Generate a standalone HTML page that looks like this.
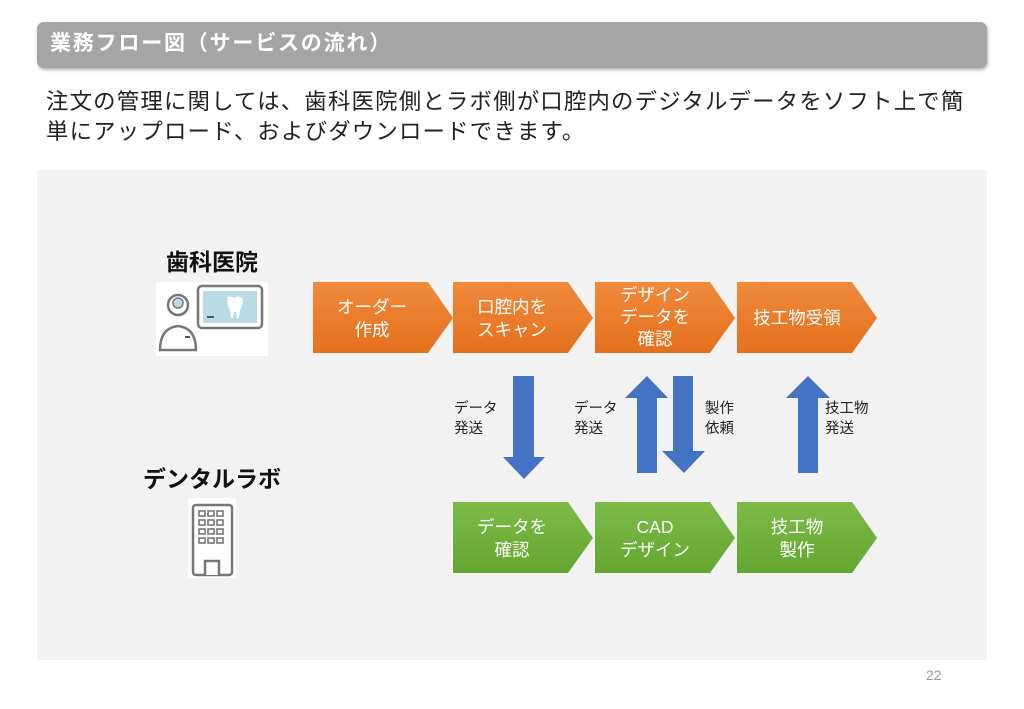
<!DOCTYPE html>
<html><head><meta charset="utf-8"><style>
body{margin:0;width:1024px;height:709px;background:#fff;position:relative;overflow:hidden;font-family:"Liberation Sans","Noto Sans CJK JP",sans-serif;}
.a{position:absolute;}
</style></head><body>
<div class="a" style="left:37px;top:22px;width:950px;height:46px;background:#a5a5a5;border-radius:7px;box-shadow:1px 2px 3px rgba(0,0,0,0.3);"></div>
<div class="a" style="left:50px;top:30px;color:#fff;font-size:21px;font-weight:bold;line-height:28px;letter-spacing:1.8px;white-space:nowrap;">業務フロー図（サービスの流れ）</div>
<div class="a" style="left:46px;top:87px;color:#222;font-size:22.4px;line-height:30px;letter-spacing:1.2px;white-space:nowrap;">注文の管理に関しては、歯科医院側とラボ側が口腔内のデジタルデータをソフト上で簡<br>単にアップロード、およびダウンロードできます。</div>
<div class="a" style="left:37px;top:170px;width:950px;height:490px;background:#f2f2f2;"></div>
<div class="a" style="left:926px;top:667px;color:#999;font-size:14px;">22</div>
<svg class="a" style="left:0;top:0" width="1024" height="709">
<defs>
<linearGradient id="og" x1="0" y1="0" x2="0" y2="1"><stop offset="0" stop-color="#f08a3c"/><stop offset="1" stop-color="#e4701c"/></linearGradient>
<linearGradient id="gg" x1="0" y1="0" x2="0" y2="1"><stop offset="0" stop-color="#7dbb48"/><stop offset="1" stop-color="#62a630"/></linearGradient>
</defs>
<g fill="url(#og)">
<polygon points="313,282 428,282 453,318 428,353 313,353"/>
<polygon points="453,282 568,282 593,318 568,353 453,353"/>
<polygon points="595,282 710,282 735,318 710,353 595,353"/>
<polygon points="737,282 852,282 877,318 852,353 737,353"/>
</g>
<g fill="url(#gg)">
<polygon points="453,502 568,502 593,538 568,573 453,573"/>
<polygon points="595,502 710,502 735,538 710,573 595,573"/>
<polygon points="737,502 852,502 877,538 852,573 737,573"/>
</g>
<g fill="#4472c4">
<polygon points="513,376 534,376 534,457 545,457 524,479 503,457 513,457"/>
<polygon points="637,473 657,473 657,398 668,398 647,376 625,398 637,398"/>
<polygon points="673,376 693,376 693,451 705,451 684,473 662,451 673,451"/>
<polygon points="798,473 818,473 818,398 830,398 808,376 786,398 798,398"/>
</g>
<rect x="156" y="282" width="112" height="74" fill="#fff"/>
<rect x="198" y="286" width="64" height="42" rx="4" fill="#fff" stroke="#777" stroke-width="2.5"/>
<rect x="203" y="291" width="54" height="32" fill="#b9dbe5"/>
<path d="M226,298 q4,-3 8,0 q4,-3 8,0 q2,6 -2,12 l-1,8 h-2 l-1,-6 h-2 l-1,6 h-2 l-1,-8 q-4,-6 -2,-12z" fill="#fff"/>
<rect x="207" y="316" width="7" height="2" fill="#555"/>
<circle cx="178" cy="305" r="10" fill="#fff" stroke="#777" stroke-width="2.5"/>
<circle cx="178" cy="303" r="5" fill="#b9dbe5" stroke="#777" stroke-width="1.5"/>
<path d="M160,350 q0,-22 18,-24 q18,2 18,24 z" fill="#fff" stroke="#777" stroke-width="2.5"/>
<rect x="185" y="336" width="5" height="2" fill="#555"/>
<rect x="188" y="498" width="48" height="80" fill="#fff"/>
<rect x="193" y="505" width="39" height="70" rx="3" fill="#fff" stroke="#777" stroke-width="2.5"/>
<g fill="none" stroke="#777" stroke-width="1.6">
<rect x="199" y="511" width="6" height="5"/><rect x="208" y="511" width="6" height="5"/><rect x="217" y="511" width="6" height="5"/>
<rect x="199" y="520" width="6" height="5"/><rect x="208" y="520" width="6" height="5"/><rect x="217" y="520" width="6" height="5"/>
<rect x="199" y="529" width="6" height="5"/><rect x="208" y="529" width="6" height="5"/><rect x="217" y="529" width="6" height="5"/>
<rect x="199" y="538" width="6" height="5"/><rect x="208" y="538" width="6" height="5"/><rect x="217" y="538" width="6" height="5"/>
</g>
<path d="M205,575 v-14 h14 v14" fill="#fff" stroke="#777" stroke-width="2.5"/>
<g font-family="Liberation Sans,Noto Sans CJK JP,sans-serif" fill="#fff" font-size="17.5" text-anchor="middle">
<text x="372" y="313">オーダー</text><text x="372" y="336">作成</text>
<text x="512" y="313">口腔内を</text><text x="512" y="336">スキャン</text>
<text x="655" y="301">デザイン</text><text x="655" y="323">データを</text><text x="655" y="345">確認</text>
<text x="797" y="324">技工物受領</text>
<text x="512" y="533">データを</text><text x="512" y="556">確認</text>
<text x="655" y="533">CAD</text><text x="655" y="556">デザイン</text>
<text x="797" y="533">技工物</text><text x="797" y="556">製作</text>
</g>
<g font-family="Liberation Sans,Noto Sans CJK JP,sans-serif" fill="#222" font-size="14.5">
<text x="454" y="413">データ</text><text x="454" y="433">発送</text>
<text x="574" y="413">データ</text><text x="574" y="433">発送</text>
<text x="705" y="413">製作</text><text x="705" y="433">依頼</text>
<text x="825" y="413">技工物</text><text x="825" y="433">発送</text>
</g>
<g font-family="Liberation Sans,Noto Sans CJK JP,sans-serif" fill="#111" font-size="23" font-weight="bold" text-anchor="middle">
<text x="212" y="270">歯科医院</text>
<text x="212" y="487">デンタルラボ</text>
</g>
</svg>
</body></html>
